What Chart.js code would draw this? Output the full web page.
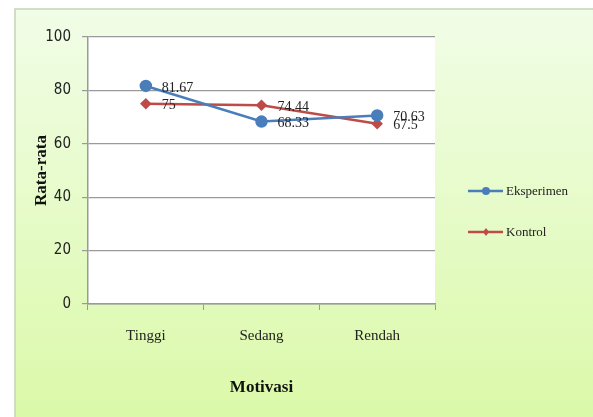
<!DOCTYPE html>
<html>
<head>
<meta charset="utf-8">
<script src="https://cdn.jsdelivr.net/npm/chart.js@4"></script>
<style>
  html, body { margin: 0; padding: 0; background: #fff; }
  #wrap { width: 593px; height: 417px; }
</style>
</head>
<body>
<div id="wrap"><canvas id="myChart" width="593" height="417"></canvas></div>
<script>
// data
var categories = ['Tinggi', 'Sedang', 'Rendah'];
var eksperimen = [81.67, 68.33, 70.63];
var kontrol = [75, 74.44, 67.5];
var yTicks = [0, 20, 40, 60, 80, 100];

var blue = '#4a7ebb';
var red = '#be4b48';
var serif = "'Liberation Serif', 'DejaVu Serif', serif";

// green panel and white plot area behind everything
var backgroundPlugin = {
    id: 'panel',
    beforeDraw: function(chart) {
        var ctx = chart.ctx;
        var area = chart.chartArea;
        ctx.save();
        var g = ctx.createLinearGradient(0, 9, 0, 417);
        g.addColorStop(0, '#f1fde7');
        g.addColorStop(1, '#dbf9a9');
        ctx.fillStyle = g;
        ctx.fillRect(15, 9, chart.width - 15, chart.height - 9);
        ctx.strokeStyle = '#c5d3b5';
        ctx.lineWidth = 1.5;
        ctx.beginPath();
        ctx.moveTo(15, chart.height);
        ctx.lineTo(15, 9);
        ctx.lineTo(chart.width, 9);
        ctx.stroke();
        ctx.fillStyle = '#ffffff';
        ctx.fillRect(area.left, area.top, area.right - area.left, area.bottom - area.top);
        ctx.restore();
    }
};

// value labels next to each point + legend on the right
var labelPlugin = {
    id: 'valueLabels',
    afterDatasetsDraw: function(chart) {
        var ctx = chart.ctx;
        ctx.save();
        ctx.font = '14px ' + serif;
        ctx.fillStyle = '#222';
        ctx.textAlign = 'left';
        ctx.textBaseline = 'middle';
        chart.data.datasets.forEach(function(ds, i) {
            var meta = chart.getDatasetMeta(i);
            meta.data.forEach(function(pt, j) {
                ctx.fillText(String(ds.data[j]), pt.x + 16, pt.y + 2);
            });
        });

        // legend
        var ys = [191, 232];
        ctx.font = '13px ' + serif;
        chart.data.datasets.forEach(function(ds, i) {
            var y = ys[i];
            ctx.strokeStyle = ds.borderColor;
            ctx.lineWidth = 2.5;
            ctx.beginPath();
            ctx.moveTo(468, y);
            ctx.lineTo(503, y);
            ctx.stroke();
            ctx.fillStyle = ds.borderColor;
            ctx.beginPath();
            if (ds.pointStyle === 'circle') {
                ctx.arc(486, y, 4, 0, Math.PI * 2);
            } else {
                ctx.moveTo(486, y - 4); ctx.lineTo(489, y); ctx.lineTo(486, y + 4); ctx.lineTo(483, y);
                ctx.closePath();
            }
            ctx.fill();
            ctx.fillStyle = '#222';
            ctx.fillText(ds.label, 506, y + 1);
        });
        ctx.restore();
    }
};

var chartData = {
    type: 'line',
    data: {
        labels: categories,
        datasets: [{
            label: 'Eksperimen',
            data: eksperimen,
            borderColor: blue,
            backgroundColor: blue,
            borderWidth: 2.5,
            pointStyle: 'circle',
            pointRadius: 5,
            pointHoverRadius: 5,
            tension: 0
        }, {
            label: 'Kontrol',
            data: kontrol,
            borderColor: red,
            backgroundColor: red,
            borderWidth: 2.5,
            pointStyle: 'rectRot',
            pointRadius: 4,
            pointHoverRadius: 4,
            tension: 0
        }]
    },
    options: {
        responsive: false,
        animation: false,
        layout: { padding: { left: 15, top: 37, right: 158, bottom: 14 } },
        plugins: {
            legend: { display: false },
            tooltip: { enabled: false }
        },
        scales: {
            x: {
                offset: true,
                grid: {
                    offset: true,
                    drawOnChartArea: false,
                    drawTicks: true,
                    tickLength: 6,
                    color: '#9a9a9a'
                },
                border: { color: '#9a9a9a', width: 1.5 },
                ticks: {
                    color: '#222',
                    padding: 17,
                    font: { family: serif, size: 15 }
                },
                title: {
                    display: true,
                    text: 'Motivasi',
                    color: '#111',
                    padding: { top: 6, bottom: 5 },
                    font: { family: serif, size: 17, weight: 'bold' }
                },
                afterFit: function(scale) { scale.height = 99; }
            },
            y: {
                min: 0,
                max: 100,
                afterBuildTicks: function(scale) {
                    scale.ticks = yTicks.map(function(v) { return { value: v }; });
                },
                grid: {
                    color: '#9a9a9a',
                    lineWidth: 1.2,
                    tickLength: 6
                },
                border: { color: '#9a9a9a', width: 1.5 },
                ticks: {
                    color: '#222',
                    padding: 11,
                    font: { family: "'Liberation Sans Narrow', 'DejaVu Sans Condensed', sans-serif", size: 15 }
                },
                title: {
                    display: true,
                    text: 'Rata-rata',
                    color: '#111',
                    padding: { bottom: 0, top: 16 },
                    font: { family: serif, size: 17, weight: 'bold' }
                },
                afterFit: function(scale) { scale.width = 73; }
            }
        }
    },
    plugins: [backgroundPlugin, labelPlugin]
};

var chartArea = document.getElementById('myChart').getContext('2d');
var myChart = new Chart(chartArea, chartData);
</script>
</body>
</html>
